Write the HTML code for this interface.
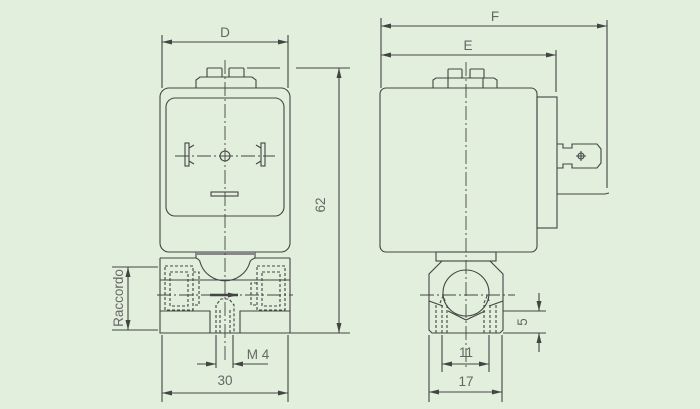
<!DOCTYPE html>
<html><head><meta charset="utf-8"><style>
html,body{margin:0;padding:0;background:#e2efdc;}
svg{display:block}
text{font-family:"Liberation Sans",sans-serif;fill:#666;font-size:13.5px}
</style></head><body>
<svg width="700" height="409" viewBox="0 0 700 409" xmlns="http://www.w3.org/2000/svg">
<defs>
<marker id="a" viewBox="0 0 10 5" refX="10" refY="2.5" markerWidth="10" markerHeight="5" orient="auto-start-reverse" markerUnits="userSpaceOnUse"><path d="M0,0 L10,2.5 L0,5z" fill="#444"/></marker>
</defs>
<rect width="700" height="409" fill="#e2efdc"/>
<g fill="none" stroke="#444" stroke-width="1.1">
<!-- LEFT VIEW -->
<rect x="160" y="88" width="130" height="164" rx="9"/>
<rect x="166" y="98" width="118" height="118" rx="9"/>
<path d="M196,88 V80 L200,77 H252 L256,80 V88"/>
<rect x="207" y="68" width="15" height="9" rx="1"/>
<rect x="229" y="68" width="15" height="9" rx="1"/>
<circle cx="225" cy="156" r="5"/>
<rect x="211" y="192" width="27" height="4"/>
<rect x="185" y="143" width="4" height="23"/>
<rect x="261" y="143" width="4" height="23"/>
<path d="M189,148 l5,-3 M189,161 l5,3 M261,148 l-5,-3 M261,161 l-5,3"/>
<path d="M196,252 V258 M255,252 V258"/>
<rect x="196" y="252" width="59" height="3" fill="#888" stroke="none"/>
<path d="M160,258 H196 Q200,260 200,262 A26,26 0 0 0 250,262 Q250,260 255,258 H290"/>
<path d="M160,258 V333 H290 V258"/>
<path d="M160,280 H290"/>
<path d="M160,311 H210 V333 M290,311 H240 V333"/>
<g stroke-dasharray="3,2">
<rect x="165" y="266" width="28" height="44"/>
<rect x="170" y="272" width="18" height="34"/>
<path d="M193,272 H199 V305 H193"/>
<rect x="257" y="266" width="28" height="44"/>
<rect x="262" y="272" width="18" height="34"/>
<path d="M257,283 H251 V305 H257"/>
<path d="M216,333 V305 L221,299 H229 L234,305 V333 M220,333 V310 M230,333 V310"/>
</g>
<path d="M210,295 H238" stroke-width="2.5" marker-end="url(#a)"/>
<g stroke-dasharray="14,3,2,3" stroke-width="0.9">
<path d="M225,60 V360"/>
<path d="M157,295 H293"/>
<path d="M175,156 H275"/>
</g>
<!-- D dim -->
<path d="M162,35 V88 M288,35 V88"/>
<path d="M162,42 H288" marker-start="url(#a)" marker-end="url(#a)"/>
<!-- 62 dim -->
<path d="M247,68 H280 M296,68 H350 M290,333 H350"/>
<path d="M339,68 V333" marker-start="url(#a)" marker-end="url(#a)"/>
<!-- Raccordo -->
<path d="M112,267 H158 M112,330 H158"/>
<path d="M128,267 V330" marker-start="url(#a)" marker-end="url(#a)"/>
<!-- M4 -->
<path d="M216,335 V368 M233,335 V368"/>
<path d="M197,364 H216" marker-end="url(#a)"/>
<path d="M268,364 H233" marker-end="url(#a)"/>
<!-- 30 -->
<path d="M162,335 V402 M288,335 V402"/>
<path d="M162,393 H288" marker-start="url(#a)" marker-end="url(#a)"/>

<!-- RIGHT VIEW -->
<rect x="380" y="88" width="157" height="164" rx="6"/>
<rect x="537" y="97" width="20" height="131"/>
<path d="M557,144 H563 V148 H572 V144 H597 L601,149 V163 L597,168 H572 V164 H563 V168 H557"/>
<circle cx="581" cy="156" r="3"/>
<path d="M576,156 H586 M581,151 V161"/>
<path d="M557,194 H605 L609,193"/>
<path d="M433,88 V80 L436,78 H494 L497,80 V88 M448,88 V78 M483,88 V78"/>
<rect x="448" y="69" width="14" height="9" rx="1"/>
<rect x="470" y="69" width="14" height="9" rx="1"/>
<rect x="436" y="252" width="60" height="9"/>
<path d="M442,261 L429,274 V330 L432,333 H500 L503,330 V274 L490,261"/>
<circle cx="466" cy="293" r="23"/>
<path d="M448,311 L466,320 L485,311 M429,301 L443,306 M503,301 L489,306"/>
<g stroke-dasharray="3,2">
<path d="M436,333 V305 M442,333 V305 M447,333 V305 M490,333 V305 M484,333 V305 M496,333 V305"/>
<path d="M440,303 L443,296 L446,303 M484,303 L487,296 L490,303"/>
</g>
<g stroke-dasharray="14,3,2,3" stroke-width="0.9">
<path d="M466,62 V370"/>
<path d="M420,295 H515"/>
</g>
<!-- F, E -->
<path d="M381,18 V88 M607,20 V188 M556,50 V92"/>
<path d="M381,26 H607" marker-start="url(#a)" marker-end="url(#a)"/>
<path d="M381,55 H556" marker-start="url(#a)" marker-end="url(#a)"/>
<!-- 5 -->
<path d="M503,311 H546 M503,333 H546"/>
<path d="M539,293 V311" marker-end="url(#a)"/>
<path d="M539,352 V333" marker-end="url(#a)"/>
<!-- 11 -->
<path d="M442,335 V372 M489,335 V372"/>
<path d="M442,364 H489" marker-start="url(#a)" marker-end="url(#a)"/>
<!-- 17 -->
<path d="M429,335 V402 M502,335 V402"/>
<path d="M429,392 H502" marker-start="url(#a)" marker-end="url(#a)"/>
</g>
<text x="225" y="37" text-anchor="middle">D</text>
<text x="325" y="205" text-anchor="middle" transform="rotate(-90 325 205)">62</text>
<text x="123" y="298" text-anchor="middle" transform="rotate(-90 123 298)">Raccordo</text>
<text x="258" y="359" text-anchor="middle">M 4</text>
<text x="225" y="385" text-anchor="middle">30</text>
<text x="495" y="21" text-anchor="middle">F</text>
<text x="468" y="50" text-anchor="middle">E</text>
<text x="527" y="322" text-anchor="middle" transform="rotate(-90 527 322)">5</text>
<text x="466" y="357" text-anchor="middle">11</text>
<text x="466" y="386" text-anchor="middle">17</text>
</svg>
</body></html>
